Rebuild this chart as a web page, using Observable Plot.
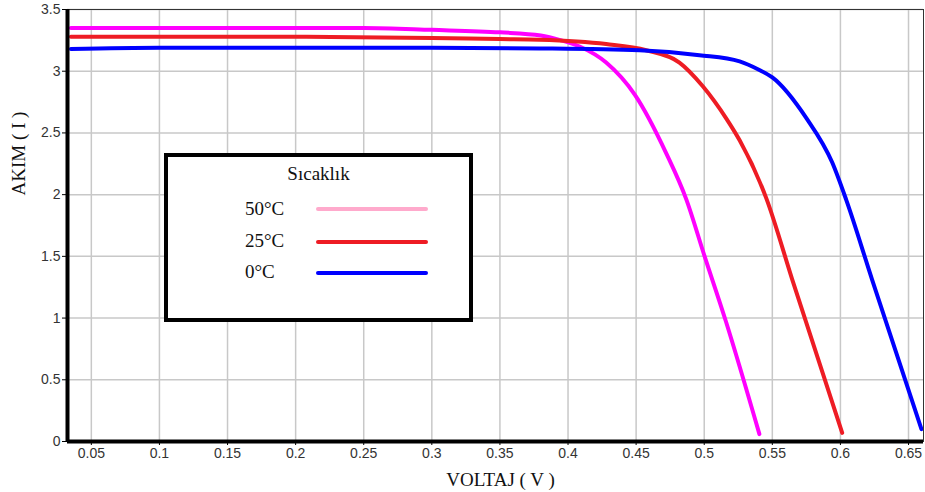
<!DOCTYPE html>
<html>
<head>
<meta charset="utf-8">
<script src="https://cdn.jsdelivr.net/npm/d3@7"></script>
<script src="https://cdn.jsdelivr.net/npm/@observablehq/plot@0.6"></script>
<style>
  html, body { margin: 0; padding: 0; background: white; }
  #wrap { position: relative; width: 925px; height: 492px; }
  #legend { position: absolute; left: 164px; top: 153px; width: 309px; height: 169px;
    box-sizing: border-box; border: 4px solid #000; background: white;
    font-family: "Liberation Serif", "Times New Roman", serif; font-size: 19px; color: #111; }
  #legend .title { position: absolute; left: 0; width: 100%; top: 6px; text-align: center; }
  #legend .lab { position: absolute; left: 77px; }
  #legend .sw { position: absolute; left: 148px; width: 112px; height: 4px; border-radius: 2px; }
</style>
</head>
<body>
<div id="wrap"></div>
<script>
// Series: 50°C
const voltage50 = [0.035, 0.15, 0.25, 0.3, 0.35, 0.38, 0.395, 0.4085, 0.428, 0.449, 0.4723, 0.4869, 0.5, 0.516, 0.5405];
const current50 = [3.35, 3.35, 3.35, 3.335, 3.315, 3.29, 3.25, 3.20, 3.07, 2.81, 2.33, 1.96, 1.51, 0.97, 0.06];
// Series: 25°C
const voltage25 = [0.035, 0.2, 0.3, 0.35, 0.379, 0.428, 0.4574, 0.4818, 0.4988, 0.5166, 0.526, 0.5456, 0.5647, 0.6013];
const current25 = [3.28, 3.28, 3.27, 3.26, 3.255, 3.22, 3.17, 3.07, 2.88, 2.61, 2.44, 1.97, 1.31, 0.07];
// Series: 0°C
const voltage0 = [0.035, 0.1, 0.3, 0.379, 0.4525, 0.4965, 0.526, 0.5405, 0.55, 0.575, 0.594, 0.6042, 0.6233, 0.6595];
const current0 = [3.18, 3.19, 3.19, 3.185, 3.17, 3.13, 3.08, 3.01, 2.95, 2.62, 2.26, 1.96, 1.31, 0.1];

const seriesNames = ["50°C", "25°C", "0°C"];
const seriesColors = ["#ff00ff", "#ee1c24", "#0000ff"];
const legendColors = ["#ffaacc", "#ee1c24", "#0000ff"];
const xTicks = [0.05, 0.1, 0.15, 0.2, 0.25, 0.3, 0.35, 0.4, 0.45, 0.5, 0.55, 0.6, 0.65];
const yTicks = [0, 0.5, 1, 1.5, 2, 2.5, 3, 3.5];
const xDomain = [0.0325, 0.661];
const yDomain = [0, 3.5];
const legendTitle = "Sıcaklık";
const xLabel = "VOLTAJ ( V )";
const yLabel = "AKIM ( I )";

const table = [];
[[voltage50, current50], [voltage25, current25], [voltage0, current0]].forEach(([vs, cs], i) => {
  vs.forEach((v, j) => table.push({series: seriesNames[i], v, i: cs[j]}));
});

const fmt = d3.format("~g");
const chart = Plot.plot({
  width: 925, height: 492,
  marginLeft: 67, marginRight: 2, marginTop: 9, marginBottom: 51,
  x: {domain: xDomain},
  y: {domain: yDomain},
  color: {domain: seriesNames, range: seriesColors},
  style: {fontFamily: "'Liberation Sans', Arial, sans-serif", fontSize: "14px", color: "#333", background: "white"},
  marks: [
    Plot.gridX(xTicks, {stroke: "#c8c8c8", strokeOpacity: 1, strokeWidth: 1.5}),
    Plot.gridY(yTicks, {stroke: "#c8c8c8", strokeOpacity: 1, strokeWidth: 1.5}),
    Plot.frame({stroke: "#333", strokeWidth: 1}),
    Plot.axisX(xTicks, {tickFormat: fmt, tickSize: 4, tickPadding: 3, label: null, stroke: "#000"}),
    Plot.axisY(yTicks, {tickFormat: fmt, tickSize: 5, tickPadding: 2, label: null, stroke: "#000"}),
    Plot.line(table, {x: "v", y: "i", stroke: "series", z: "series", strokeWidth: 4, curve: "monotone-x", clip: true}),
    Plot.ruleX([xDomain[0]], {stroke: "#000", strokeWidth: 4}),
    Plot.ruleY([yDomain[0]], {stroke: "#000", strokeWidth: 4}),
    Plot.text([xLabel], {frameAnchor: "bottom", dx: 5, dy: 44, lineAnchor: "bottom",
      fontFamily: "'Liberation Serif', 'Times New Roman', serif", fontSize: 19, fill: "#111"}),
    Plot.text([yLabel], {frameAnchor: "left", dx: -49, dy: -30, rotate: -90, lineAnchor: "middle",
      fontFamily: "'Liberation Serif', 'Times New Roman', serif", fontSize: 19, fill: "#111"})
  ]
});
const wrap = document.getElementById("wrap");
wrap.appendChild(chart);

// legend overlay
const lg = document.createElement("div");
lg.id = "legend";
const t = document.createElement("div");
t.className = "title"; t.textContent = legendTitle;
lg.appendChild(t);
const labTops = [41, 73, 104];
const swTops = [50, 83, 114];
seriesNames.forEach((name, k) => {
  const l = document.createElement("div");
  l.className = "lab"; l.textContent = name; l.style.top = labTops[k] + "px";
  lg.appendChild(l);
  const s = document.createElement("div");
  s.className = "sw"; s.style.top = swTops[k] + "px"; s.style.background = legendColors[k];
  lg.appendChild(s);
});
wrap.appendChild(lg);
</script>
</body>
</html>
